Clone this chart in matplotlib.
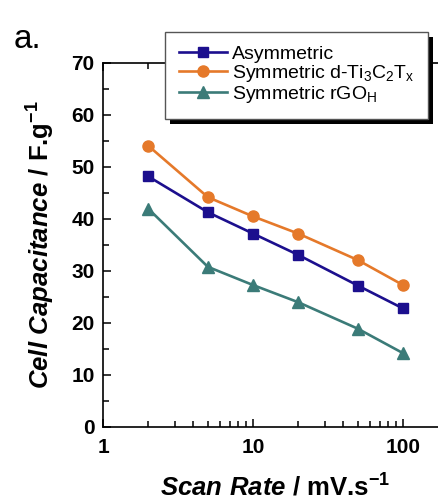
import matplotlib
matplotlib.use("Agg")
import matplotlib.pyplot as plt
from matplotlib.patches import Rectangle
from matplotlib.ticker import FixedLocator, MultipleLocator, LogLocator, NullFormatter
from matplotlib.transforms import IdentityTransform

plt.rcParams["font.family"] = ["Liberation Sans", "DejaVu Sans"]
plt.rcParams["mathtext.fontset"] = "custom"
plt.rcParams["mathtext.rm"] = "Liberation Sans:bold"
plt.rcParams["mathtext.it"] = "Liberation Sans:bold:italic"
plt.rcParams["mathtext.bf"] = "Liberation Sans:bold"

# Scan rates (mV/s) and cell capacitance (F/g)
scan_rate = [2, 5, 10, 20, 50, 100]
asymmetric = [48.2, 41.3, 37.2, 33.1, 27.2, 22.8]
sym_ti3c2 = [54.1, 44.2, 40.5, 37.2, 32.1, 27.3]
sym_rgo = [42.0, 30.8, 27.3, 24.0, 18.9, 14.2]

series_labels = [
    "Asymmetric",
    r"Symmetric d-Ti$_{\mathregular{3}}$C$_{\mathregular{2}}$T$_{\mathregular{x}}$",
    r"Symmetric rGO$_{\mathregular{H}}$",
]
x_ticks = [1, 10, 100]
x_tick_labels = ["1", "10", "100"]
y_ticks = [0, 10, 20, 30, 40, 50, 60, 70]

c_navy = "#1c0f8e"
c_orange = "#e5792a"
c_teal = "#3b7b78"

fig = plt.figure(figsize=(4.38, 5.0), dpi=100)
ax = fig.add_axes([0.2352, 0.146, 0.788, 0.728])

l1, = ax.plot(scan_rate, asymmetric, "-s", color=c_navy, lw=1.9, ms=7, label=series_labels[0])
l2, = ax.plot(scan_rate, sym_ti3c2, "-o", color=c_orange, lw=1.9, ms=8, label=series_labels[1])
l3, = ax.plot(scan_rate, sym_rgo, "-^", color=c_teal, lw=1.9, ms=8.5, label=series_labels[2])

ax.set_xscale("log")
ax.set_xlim(1, 200)
ax.set_ylim(0, 70)
ax.xaxis.set_major_locator(FixedLocator(x_ticks))
ax.set_xticklabels(x_tick_labels)
ax.xaxis.set_minor_locator(LogLocator(base=10, subs=range(2, 10)))
ax.xaxis.set_minor_formatter(NullFormatter())
ax.yaxis.set_major_locator(FixedLocator(y_ticks))
ax.yaxis.set_minor_locator(MultipleLocator(5))

for s in ax.spines.values():
    s.set_linewidth(1.2)
ax.tick_params(which="both", direction="in", top=True, right=True, width=1.1)
ax.tick_params(which="major", length=6)
ax.tick_params(axis="x", which="major", pad=8)
ax.tick_params(axis="y", which="major", pad=6)
ax.tick_params(which="minor", length=4)
for lab in ax.get_xticklabels() + ax.get_yticklabels():
    lab.set_fontsize(15)
    lab.set_fontweight("bold")

ax.set_xlabel(r"$\mathit{Scan\ Rate}$ / mV.s$^{\mathregular{-1}}$", fontsize=18.5, fontweight="bold", labelpad=12)
ax.set_ylabel(r"$\mathit{Cell\ Capacitance}$ / F.g$^{\mathregular{-1}}$", fontsize=18.5, fontweight="bold", labelpad=10)

fig.text(0.03, 0.903, "a.", fontsize=24)

leg = fig.legend(handles=[l1, l2, l3], loc="upper left", bbox_to_anchor=(0.377, 0.936),
                 borderaxespad=0, fancybox=False, frameon=True, fontsize=14,
                 handlelength=2.5, handletextpad=0.25, labelspacing=0.0,
                 borderpad=0.7, edgecolor="#555555", framealpha=1)
leg.get_frame().set_linewidth(1.0)
leg.set_zorder(6)

fig.canvas.draw()
bb = leg.get_window_extent()
shadow = Rectangle((bb.x0 + 5, bb.y0 - 5), bb.width, bb.height, transform=IdentityTransform(),
                   facecolor="black", edgecolor="none", zorder=5)
fig.add_artist(shadow)

fig.savefig("out.png", dpi=100)
